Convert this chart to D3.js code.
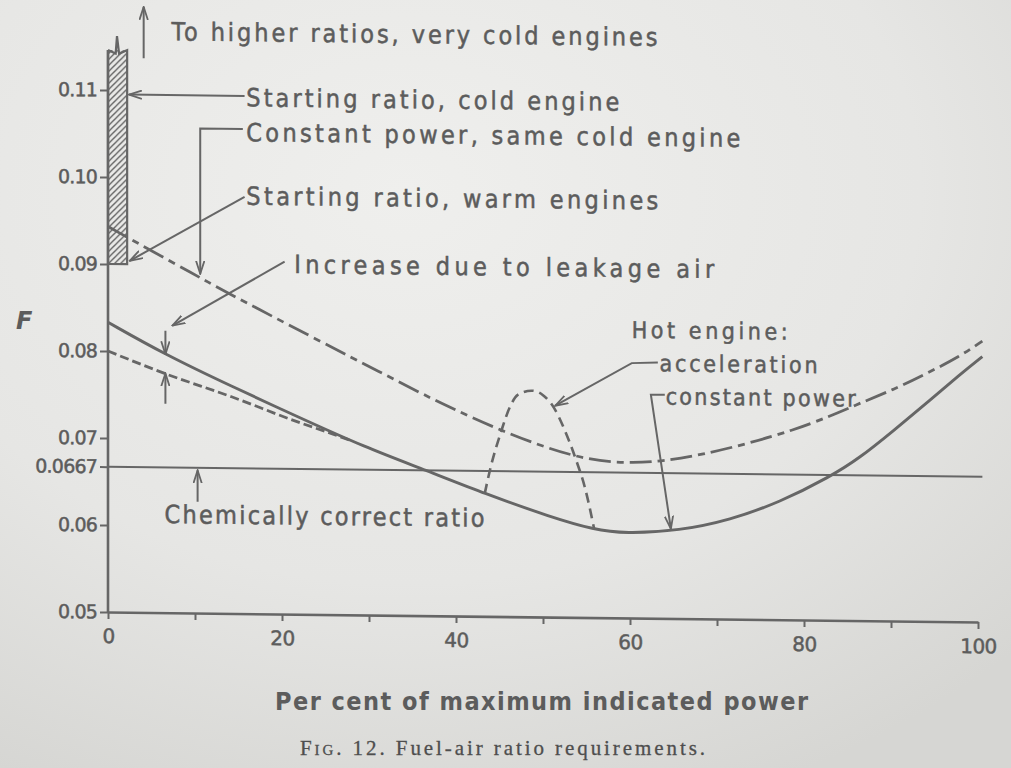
<!DOCTYPE html>
<html><head><meta charset="utf-8">
<script src="https://cdn.jsdelivr.net/npm/d3@7"></script>
<style>
html,body{margin:0;padding:0;background:#e4e4e2;}
svg{display:block}
</style>
</head><body>
<svg id="chart" width="1011" height="768"></svg>
<script>
// ---------------- DATA ----------------
// Hot engine, constant power (solid)
const solidPct = [0, 6.5, 14.2, 21.8, 29.5, 36.6, 43.3, 50.9, 55.9, 59.4, 65.7, 71.5, 77.2, 83.0, 86.4, 90.3, 94.1, 97.9, 100.5];
const solidF   = [0.0833, 0.0797, 0.0761, 0.0727, 0.0693, 0.0667, 0.0641, 0.0615, 0.0601, 0.0597, 0.0601, 0.0614, 0.0635, 0.0665, 0.0687, 0.0719, 0.0751, 0.0784, 0.0805];
// Constant power, same cold engine (dash-dot)
const coldPct = [0, 10.3, 15.3, 33.3, 37.9, 45.2, 53.6, 60.1, 67.8, 79.3, 86.4, 90.3, 94.1, 97.9, 100.5];
const coldF   = [0.0943, 0.0887, 0.0860, 0.0769, 0.0746, 0.0713, 0.0683, 0.0676, 0.0686, 0.0718, 0.0750, 0.0766, 0.0785, 0.0805, 0.0823];
// Without leakage air (short dashes)
const leakPct = [0, 6.5, 14.2, 21.8, 25.7, 28];
const leakF   = [0.0800, 0.0775, 0.0749, 0.0721, 0.0708, 0.0700];
// Hot engine, acceleration (dashed hump)
const accPct = [43.3, 43.9, 45.2, 46.2, 47.1, 48.7, 50.0, 51.3, 52.5, 53.8, 54.8, 55.9];
const accF   = [0.0641, 0.0668, 0.0713, 0.0741, 0.0755, 0.0760, 0.0755, 0.0740, 0.0715, 0.0681, 0.0650, 0.0601];
// Chemically correct ratio
const chemF = 0.0667;
const chemPct = [0, 100.5];
// Starting ratio range (hatched bar)
const barF = [0.09, 0.1146];
const barPct = [0, 2.2];
// Ticks
const xTicks = [0, 10, 20, 30, 40, 50, 60, 70, 80, 90, 100];
const xTickLabels = ["0", "", "20", "", "40", "", "60", "", "80", "", "100"];
const yTicks = [0.05, 0.06, 0.0667, 0.07, 0.08, 0.09, 0.10, 0.11];
const yTickLabels = ["0.05", "0.06", "0.0667", "0.07", "0.08", "0.09", "0.10", "0.11"];
// Texts
const annotationTexts = [
  "To higher ratios, very cold engines",
  "Starting ratio, cold engine",
  "Constant power, same cold engine",
  "Starting ratio, warm engines",
  "Increase due to leakage air",
  "Hot engine:",
  "acceleration",
  "constant power",
  "Chemically correct ratio"
];
const xTitle = "Per cent of maximum indicated power";
const yTitle = "F";
const captionFig = "Fig.";
const captionRest = " 12. Fuel-air ratio requirements.";

// ---------------- LAYOUT ----------------
const svg = d3.select("#chart");
const ink = "#666666";
const textInk = "#5c5c5c";

const defs = svg.append("defs");
const bg = defs.append("radialGradient").attr("id","paper").attr("cx","40%").attr("cy","25%").attr("r","85%");
bg.append("stop").attr("offset","0%").attr("stop-color","#efefed");
bg.append("stop").attr("offset","60%").attr("stop-color","#e6e6e4");
bg.append("stop").attr("offset","100%").attr("stop-color","#d6d6d3");
svg.append("rect").attr("width",1011).attr("height",768).attr("fill","url(#paper)");

const hatch = defs.append("pattern").attr("id","hatch").attr("patternUnits","userSpaceOnUse")
  .attr("width",6).attr("height",6);
hatch.append("path").attr("d","M-1,1 L1,-1 M0,6 L6,0 M5,7 L7,5")
  .attr("stroke",ink).attr("stroke-width",1.4);

const mk = defs.append("marker").attr("id","arr").attr("markerUnits","userSpaceOnUse")
  .attr("viewBox","0 0 14 10").attr("refX",13).attr("refY",5)
  .attr("markerWidth",14).attr("markerHeight",10).attr("orient","auto");
mk.append("path").attr("d","M0,0.8 L13,5 L0,9.2").attr("fill","none").attr("stroke",ink).attr("stroke-width",1.8);

const x = d3.scaleLinear().domain([0,100]).range([108,978]);
const y = d3.scaleLinear().domain([0.05,0.11]).range([612,90]);

// slight skew to match the photographed page
const g = svg.append("g").attr("transform","translate(108,0) skewY(0.66) translate(-108,0)");

const thicken = sel => sel.attr("stroke",textInk).attr("stroke-width",0.5);

// axes
const yAxis = d3.axisLeft(y).tickValues(yTicks).tickSize(8).tickSizeOuter(0).tickPadding(3)
  .tickFormat((d,i)=>yTickLabels[i]);
const yg = g.append("g").attr("transform",`translate(${x(0)},0)`).call(yAxis);
yg.select(".domain").remove();
yg.selectAll("line").attr("stroke",ink).attr("stroke-width",2);
yg.selectAll("text").attr("fill",textInk).attr("font-family","DejaVu Sans, sans-serif")
  .attr("font-size",19).attr("letter-spacing",-0.8).call(thicken);

const xAxis = d3.axisBottom(x).tickValues(xTicks).tickSize(7).tickSizeOuter(0).tickPadding(10)
  .tickFormat((d,i)=>xTickLabels[i]);
const xg = g.append("g").attr("transform",`translate(0,${y(0.05)})`).call(xAxis);
xg.select(".domain").attr("stroke",ink).attr("stroke-width",2.6);
xg.selectAll("line").attr("stroke",ink).attr("stroke-width",2);
xg.selectAll("text").attr("fill",textInk).attr("font-family","DejaVu Sans, sans-serif")
  .attr("font-size",20).attr("letter-spacing",-0.5).call(thicken);

// y axis line
g.append("line").attr("x1",x(0)).attr("x2",x(0)).attr("y1",y(0.05)).attr("y2",y(barF[1]))
  .attr("stroke",ink).attr("stroke-width",2.6);

// hatched bar
g.append("rect").attr("x",x(barPct[0])).attr("width",x(barPct[1])-x(barPct[0]))
  .attr("y",y(barF[1])).attr("height",y(barF[0])-y(barF[1]))
  .attr("fill","url(#hatch)").attr("stroke","none");
const barLine = d3.line().x(d=>x(d[0])).y(d=>y(d[1]));
g.append("path").attr("d",barLine([
    [barPct[0],barF[1]],[barPct[0],barF[0]],[barPct[1],barF[0]],[barPct[1],barF[1]],
    [barPct[1]*0.58,barF[1]-0.0004],[barPct[1]*0.47,barF[1]+0.0016],[barPct[1]*0.4,barF[1]-0.0004],[barPct[0],barF[1]]
  ])).attr("fill","none").attr("stroke",ink).attr("stroke-width",2.2).attr("stroke-linejoin","miter");

// chemically correct line
g.append("line").attr("x1",x(chemPct[0])).attr("x2",x(chemPct[1])).attr("y1",y(chemF)).attr("y2",y(chemF))
  .attr("stroke",ink).attr("stroke-width",2);

const smooth = d3.line().x(d=>x(d[0])).y(d=>y(d[1])).curve(d3.curveBasis);
const curve = d3.line().x(d=>x(d[0])).y(d=>y(d[1])).curve(d3.curveMonotoneX);
const zip = (a,b)=>a.map((v,i)=>[v,b[i]]);

g.append("path").attr("d",smooth(zip(coldPct,coldF))).attr("fill","none").attr("stroke",ink)
  .attr("stroke-width",2.8).attr("stroke-dasharray","22,6,7,6");
g.append("path").attr("d",curve(zip(leakPct,leakF))).attr("fill","none").attr("stroke",ink)
  .attr("stroke-width",2.8).attr("stroke-dasharray","9,4");
g.append("path").attr("d",curve(zip(accPct,accF))).attr("fill","none").attr("stroke",ink)
  .attr("stroke-width",2.6).attr("stroke-dasharray","10,6");
g.append("path").attr("d",smooth(zip(solidPct,solidF))).attr("fill","none").attr("stroke",ink)
  .attr("stroke-width",2.9);

// leaders (data coordinates)
const leaders = [
  [[4.1,0.1137],[4.1,0.1196]],
  [[15.7,0.1095],[2.4,0.1095]],
  [[15.5,0.1057],[10.6,0.1057],[10.6,0.0890]],
  [[15.7,0.0979],[2.5,0.0904]],
  [[20.3,0.0905],[7.4,0.0830]],
  [[6.6,0.0824],[6.6,0.0797]],
  [[6.6,0.0740],[6.6,0.0775]],
  [[63.2,0.0794],[60.2,0.0793],[51.4,0.0743]],
  [[64.0,0.0757],[62.4,0.0757],[64.7,0.0603]],
  [[10.3,0.0628],[10.3,0.0664]]
];
leaders.forEach(pts=>{
  g.append("path").attr("d",barLine(pts)).attr("fill","none").attr("stroke",ink)
    .attr("stroke-width",2).attr("marker-end","url(#arr)");
});

// annotation texts: [pct, F(baseline), width]
const textPos = [
  [7.3,0.1158,486],[15.9,0.1083,373],[15.9,0.1043,494],[15.9,0.0970,412],
  [21.4,0.0892,420],[60.2,0.0822,156],[63.4,0.0784,158],[64.1,0.0746,190],[6.5,0.0603,320]
];
annotationTexts.forEach((t,i)=>{
  const [p,f,w] = textPos[i];
  g.append("text").attr("x",x(p)).attr("y",y(f)).text(t)
    .attr("fill",textInk).attr("font-family","DejaVu Sans Condensed, DejaVu Sans, sans-serif")
    .attr("font-stretch","condensed").attr("font-size", i>=5 && i<=7 ? 23 : 25)
    .attr("textLength",w).attr("lengthAdjust","spacing").call(thicken);
});

// titles
svg.append("text").attr("x",16).attr("y",329).text(yTitle)
  .attr("fill",textInk).attr("font-family","DejaVu Sans, sans-serif").attr("font-style","italic")
  .attr("font-weight","bold").attr("font-size",24);
svg.append("text").attr("x",275).attr("y",710).text(xTitle)
  .attr("fill",textInk).attr("font-family","DejaVu Sans Condensed, DejaVu Sans, sans-serif")
  .attr("font-stretch","condensed").attr("font-weight","bold").attr("font-size",25)
  .attr("textLength",533).attr("lengthAdjust","spacing");
const cap = svg.append("text").attr("x",300).attr("y",755)
  .attr("fill","#4e4e4e").attr("font-family","Liberation Serif, serif").attr("font-size",21)
  .attr("textLength",405).attr("lengthAdjust","spacing").attr("stroke","#4e4e4e").attr("stroke-width",0.3);
cap.append("tspan").attr("font-variant","small-caps").text(captionFig);
cap.append("tspan").text(captionRest);
</script>
</body></html>
